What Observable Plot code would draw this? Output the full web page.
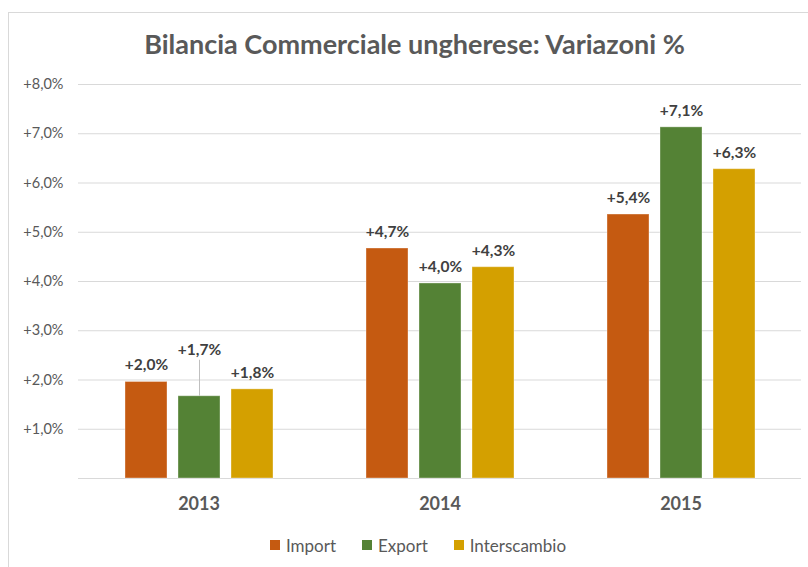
<!DOCTYPE html>
<html><head><meta charset="utf-8">
<script src="https://cdn.jsdelivr.net/npm/d3@7"></script>
<script src="https://cdn.jsdelivr.net/npm/@observablehq/plot@0.6"></script>
<style>
html,body{margin:0;padding:0;background:#fff;}
#wrap{position:relative;width:808px;height:567px;overflow:hidden;font-family:Lato,"Open Sans",sans-serif;}
#frame{position:absolute;left:8px;top:12px;width:900px;height:700px;border-left:1.5px solid #D9D9D9;border-top:1.5px solid #D9D9D9;}
#title{position:absolute;left:21px;width:787px;top:29px;line-height:30px;text-align:center;font-size:27px;font-weight:bold;color:#595959;white-space:nowrap;}
#chart{position:absolute;left:0;top:0;}
#legend{position:absolute;left:36px;width:764px;top:534px;height:22px;display:flex;justify-content:center;align-items:center;font-size:17px;color:#595959;}
.item{display:flex;align-items:center;margin:0 13px;}
.sw{width:10px;height:10px;margin-right:6px;}
</style></head>
<body><div id="wrap"><div id="frame"></div><div id="title"></div><div id="chart"></div><div id="legend"></div></div>
<script>
const titleText = "Bilancia Commerciale ungherese: Variazoni %";
const years = ["2013", "2014", "2015"];
const series = ["Import", "Export", "Interscambio"];
const colors = ["#C55A11", "#548235", "#D4A000"];
const importVals = [1.96, 4.67, 5.36];
const exportVals = [1.67, 3.96, 7.13];
const interVals = [1.81, 4.29, 6.28];
const yTicks = [1, 2, 3, 4, 5, 6, 7, 8];
const gridVals = [0, 1, 2, 3, 4, 5, 6, 7, 8];
const leader = {year: "2013", series: "Export"};

const fmt = v => "+" + v.toFixed(1).replace(".", ",") + "%";
const seriesVals = [importVals, exportVals, interVals];
const data = [];
years.forEach((yr, i) => series.forEach((s, j) => data.push({year: yr, series: s, value: seriesVals[j][i]})));
const isLeader = d => d.year === leader.year && d.series === leader.series;

document.getElementById("title").textContent = titleText;

const chart = Plot.plot({
  width: 808, height: 520,
  marginLeft: 77, marginRight: 7, marginTop: 84, marginBottom: 42,
  style: {fontFamily: "Lato, 'Open Sans', sans-serif", background: "transparent", overflow: "visible"},
  fx: {domain: years, padding: 0, label: null},
  x: {domain: series, paddingInner: 0.211, paddingOuter: 0.855, axis: null},
  y: {domain: [0, 8], label: null},
  color: {domain: series, range: colors},
  marks: [
    Plot.ruleY(gridVals, {y: d => d, stroke: "#D9D9D9", strokeWidth: 1}),
    Plot.axisY({ticks: yTicks, tickFormat: fmt, tickSize: 0, tickPadding: 15, fontSize: 14.5, fill: "#595959", label: null}),
    Plot.axisFx({anchor: "bottom", tickSize: 0, tickPadding: 19, fontSize: 18, fontWeight: "bold", fill: "#595959", label: null}),
    Plot.barY(data, {fx: "year", x: "series", y: "value", fill: "series", stroke: "white", strokeOpacity: 0.35, strokeWidth: 1}),
    Plot.ruleX(data.filter(isLeader), {fx: "year", x: "series", y1: "value", y2: "value", insetTop: -36, stroke: "#BFBFBF", strokeWidth: 1}),
    Plot.text(data.filter(d => !isLeader(d)), {fx: "year", x: "series", y: "value", text: d => fmt(d.value), dy: -16.5, fontSize: 15.5, fontWeight: "bold", fill: "#404040"}),
    Plot.text(data.filter(isLeader), {fx: "year", x: "series", y: "value", text: d => fmt(d.value), dy: -46, fontSize: 15.5, fontWeight: "bold", fill: "#404040"})
  ]
});
document.getElementById("chart").appendChild(chart);

const legend = document.getElementById("legend");
series.forEach((s, i) => {
  const item = document.createElement("div");
  item.className = "item";
  const sw = document.createElement("div");
  sw.className = "sw";
  sw.style.background = colors[i];
  const lab = document.createElement("span");
  lab.textContent = s;
  item.appendChild(sw); item.appendChild(lab);
  legend.appendChild(item);
});
</script>
</body></html>
